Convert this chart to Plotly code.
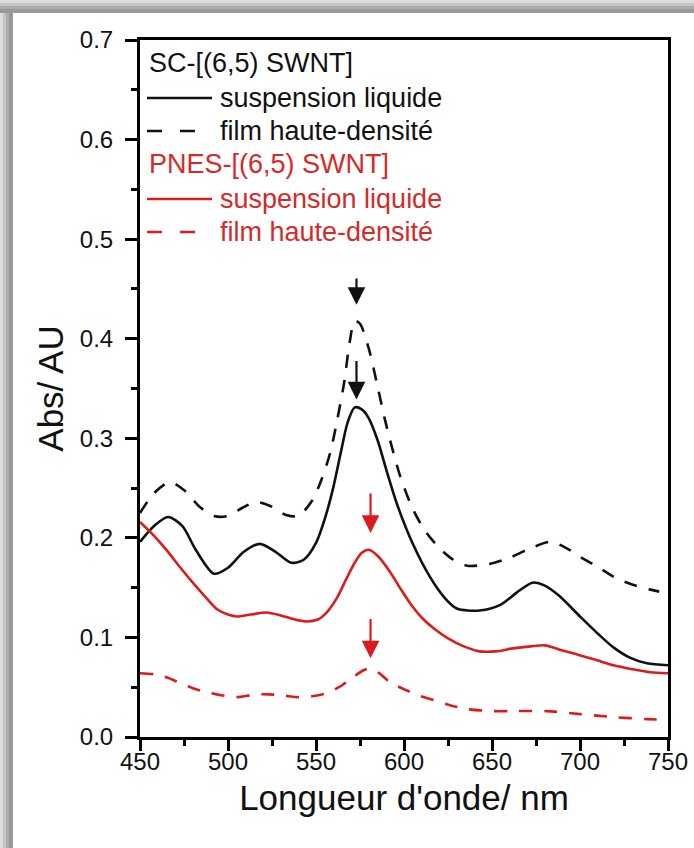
import plotly.graph_objects as go

# SC-[(6,5) SWNT] suspension liquide (trait plein noir)
wl_sc_liq = [450, 458, 466, 474, 482, 492, 500, 509, 518, 527, 536, 543, 550, 556, 560,
             564, 568, 572, 576, 580, 585, 590, 596, 605, 615, 623, 630, 643, 655, 664,
             673, 680, 688, 700, 710, 719, 728, 738, 750]
abs_sc_liq = [0.196, 0.212, 0.221, 0.212, 0.187, 0.164, 0.170, 0.186, 0.194, 0.186, 0.175,
              0.178, 0.195, 0.225, 0.252, 0.285, 0.316, 0.331, 0.329, 0.320, 0.298, 0.268,
              0.234, 0.194, 0.160, 0.140, 0.129, 0.127, 0.133, 0.145, 0.155, 0.152, 0.142,
              0.121, 0.104, 0.090, 0.080, 0.074, 0.072]

# SC-[(6,5) SWNT] film haute-densité (tirets noirs)
wl_sc_film = [450, 458, 467, 475, 484, 492, 500, 508, 516, 524, 533, 540, 548, 553, 558,
              562, 566, 569, 572, 575, 580, 585, 589, 593, 598, 605, 612, 620, 628, 636,
              649, 660, 670, 683, 692, 700, 710, 720, 730, 740, 745]
abs_sc_film = [0.225, 0.245, 0.256, 0.248, 0.231, 0.222, 0.222, 0.230, 0.236, 0.232, 0.223,
               0.222, 0.238, 0.258, 0.285, 0.318, 0.356, 0.395, 0.418, 0.415, 0.390, 0.352,
               0.320, 0.292, 0.261, 0.229, 0.207, 0.190, 0.178, 0.172, 0.174, 0.180, 0.188,
               0.196, 0.190, 0.181, 0.171, 0.160, 0.153, 0.148, 0.146]

# PNES-[(6,5) SWNT] suspension liquide (trait plein rouge)
wl_pnes_liq = [450, 458, 465, 473, 480, 488, 494, 500, 505, 513, 522, 530, 538, 545, 551,
               556, 562, 567, 572, 576, 580, 585, 592, 598, 604, 610, 617, 625, 634, 643,
               652, 662, 672, 680, 688, 696, 708, 719, 730, 740, 750]
abs_pnes_liq = [0.216, 0.202, 0.188, 0.170, 0.155, 0.139, 0.128, 0.123, 0.121, 0.123, 0.125,
                0.122, 0.118, 0.116, 0.118, 0.125, 0.140, 0.158, 0.175, 0.185, 0.188, 0.182,
                0.166, 0.149, 0.133, 0.120, 0.109, 0.099, 0.091, 0.086, 0.086, 0.089, 0.091,
                0.092, 0.088, 0.084, 0.078, 0.072, 0.068, 0.065, 0.064]

# PNES-[(6,5) SWNT] film haute-densité (tirets rouges)
wl_pnes_film = [450, 458, 465, 473, 480, 488, 496, 505, 513, 520, 530, 539, 548, 556, 563,
                571, 577, 581, 586, 592, 600, 608, 617, 626, 636, 650, 662, 681, 700, 719,
                738, 750]
abs_pnes_film = [0.064, 0.063, 0.060, 0.054, 0.049, 0.045, 0.042, 0.040, 0.042, 0.043, 0.042,
                 0.040, 0.041, 0.044, 0.050, 0.060, 0.067, 0.069, 0.064, 0.055, 0.048, 0.042,
                 0.037, 0.032, 0.028, 0.026, 0.026, 0.026, 0.023, 0.020, 0.018, 0.017]

# flèches (x, début, pointe)
arrow_x = [573, 573, 581, 581]
arrow_tail = [0.462, 0.379, 0.246, 0.120]
arrow_tip = [0.434, 0.339, 0.205, 0.079]

BLACK = '#111111'
RED = '#dc1c1c'
RED_TXT = '#d42a2a'
FONT = 'Liberation Sans, Arial, sans-serif'

# zone de tracé en pixels
L, R, T, B = 140, 668, 40, 737
W, H = 694, 848


def px_x(p):
    return (p - L) / (R - L)


def px_y(p):
    return (B - p) / (B - T)


fig = go.Figure()

series = [
    (wl_sc_liq, abs_sc_liq, BLACK, 'solid'),
    (wl_sc_film, abs_sc_film, BLACK, '13px,12px'),
    (wl_pnes_liq, abs_pnes_liq, RED, 'solid'),
    (wl_pnes_film, abs_pnes_film, RED, '13px,12px'),
]
for xs, ys, col, dash in series:
    fig.add_trace(go.Scatter(
        x=xs, y=ys, mode='lines',
        line=dict(color=col, width=2.6, dash=dash, shape='spline', smoothing=0.8),
        showlegend=False, hoverinfo='skip'
    ))

# traces vides pour les axes qui portent les graduations
for xa, ya in [('x2', 'y2'), ('x3', 'y3')]:
    fig.add_trace(go.Scatter(x=[None], y=[None], xaxis=xa, yaxis=ya,
                             showlegend=False, hoverinfo='skip'))

# flèches
for i in range(len(arrow_x)):
    col = BLACK if i < 2 else RED
    fig.add_annotation(
        x=arrow_x[i], y=arrow_tip[i], ax=arrow_x[i], ay=arrow_tail[i],
        xref='x', yref='y', axref='x', ayref='y',
        showarrow=True, arrowhead=2, arrowsize=1.6, arrowwidth=2.2,
        arrowcolor=col, standoff=0, text=''
    )

# cadre gris (ombre en haut et à gauche)
shapes = []
greys = ['#dcdcdc', '#c4c4c4', '#acacac', '#999999']
steps = [0, 3, 6, 9, 13]
for i, g in enumerate(greys):
    shapes.append(dict(type='rect', xref='paper', yref='paper', layer='below',
                       x0=px_x(0), x1=px_x(W), y0=px_y(steps[i]), y1=px_y(steps[i + 1]),
                       fillcolor=g, line=dict(width=0)))
    shapes.append(dict(type='rect', xref='paper', yref='paper', layer='below',
                       x0=px_x(steps[i]), x1=px_x(steps[i + 1]), y0=px_y(H), y1=px_y(steps[i]),
                       fillcolor=g, line=dict(width=0)))

# légende manuelle
legend_rows = [
    ('SC-[(6,5) SWNT]', BLACK, None, None),
    ('suspension liquide', BLACK, BLACK, 'solid'),
    ('film haute-densité', BLACK, BLACK, '15px,18px'),
    ('PNES-[(6,5) SWNT]', RED_TXT, None, None),
    ('suspension liquide', RED_TXT, RED, 'solid'),
    ('film haute-densité', RED_TXT, RED, '15px,18px'),
]
row_y = [63, 98, 131, 164, 199, 232]
for (label, tcol, lcol, dash), yy in zip(legend_rows, row_y):
    if lcol is None:
        fig.add_annotation(x=px_x(147), y=px_y(yy), xref='paper', yref='paper',
                           text=label, showarrow=False, xanchor='left', yanchor='middle',
                           font=dict(family=FONT, size=27, color=tcol))
        continue
    x_end = 212 if dash == 'solid' else 196
    shapes.append(dict(type='line', xref='paper', yref='paper',
                       x0=px_x(147), x1=px_x(x_end), y0=px_y(yy), y1=px_y(yy),
                       line=dict(color=lcol, width=2.6, dash=dash)))
    fig.add_annotation(x=px_x(218), y=px_y(yy), xref='paper', yref='paper',
                       text=label, showarrow=False, xanchor='left', yanchor='middle',
                       font=dict(family=FONT, size=27, color=tcol))

NOTICK = 'rgba(0,0,0,0)'
tick_axis = dict(ticks='outside', tickwidth=2.8, tickcolor='black',
                 showticklabels=False, showline=False, showgrid=False, zeroline=False)

fig.update_layout(
    width=W, height=H,
    margin=dict(l=L, r=W - R, t=T, b=H - B, autoexpand=False),
    paper_bgcolor='white',
    plot_bgcolor='white',
    shapes=shapes,
    font=dict(family=FONT, color=BLACK),
    # axes principaux : trait du cadre, étiquettes et titres
    xaxis=dict(
        range=[450, 750], dtick=50, tick0=450,
        showgrid=False, zeroline=False,
        showline=True, linecolor='black', linewidth=3, mirror=True,
        ticks='outside', ticklen=1, tickcolor=NOTICK,
        tickfont=dict(family=FONT, size=24, color=BLACK),
        title=dict(text="Longueur d'onde/ nm", font=dict(family=FONT, size=35, color=BLACK),
                   standoff=12),
    ),
    yaxis=dict(
        range=[0, 0.7], dtick=0.1, tick0=0, tickformat='.1f',
        showgrid=False, zeroline=False,
        showline=True, linecolor='black', linewidth=3, mirror=True,
        ticks='outside', ticklen=19, tickcolor=NOTICK,
        tickfont=dict(family=FONT, size=24, color=BLACK),
        title=dict(text='Abs/ AU', font=dict(family=FONT, size=35, color=BLACK), standoff=6),
    ),
    # graduations principales et secondaires
    xaxis2=dict(overlaying='x', anchor='y', side='bottom', range=[450, 750],
                dtick=50, tick0=450, ticklen=13, **tick_axis),
    yaxis2=dict(overlaying='y', anchor='x', side='left', range=[0, 0.7],
                dtick=0.1, tick0=0, ticklen=14, **tick_axis),
    xaxis3=dict(overlaying='x', anchor='y', side='bottom', range=[450, 750],
                dtick=25, tick0=450, ticklen=8, **tick_axis),
    yaxis3=dict(overlaying='y', anchor='x', side='left', range=[0, 0.7],
                dtick=0.05, tick0=0, ticklen=8, **tick_axis),
)

fig.write_html("out.html", config={'displayModeBar': False},
               post_script="document.body.style.margin='0';document.body.style.overflow='hidden';")
